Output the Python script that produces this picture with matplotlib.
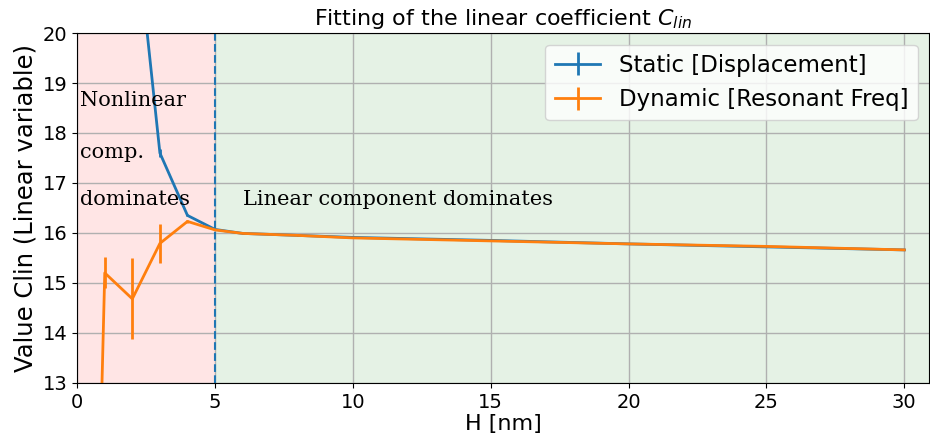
import numpy as np
import matplotlib
matplotlib.use("Agg")
import matplotlib.pyplot as plt

H = [0.5, 1, 2, 3, 4, 5, 6, 8, 10, 15, 20, 25, 30]
static_val = [40.0, 30.0, 22.8, 17.6, 16.35, 16.07, 15.99, 15.95, 15.91, 15.85, 15.78, 15.72, 15.66]
static_err = [0.5, 0.4, 0.2, 0.08, 0.02, 0.01, 0.01, 0.01, 0.01, 0.01, 0.01, 0.01, 0.01]
dyn_val = [4.2, 15.2, 14.68, 15.79, 16.23, 16.06, 15.99, 15.95, 15.9, 15.84, 15.78, 15.73, 15.66]
dyn_err = [0.5, 0.31, 0.81, 0.39, 0.03, 0.01, 0.01, 0.01, 0.01, 0.01, 0.01, 0.01, 0.01]
H_SPLIT = 5


def main():
    fig = plt.figure(figsize=(9.3, 4.41), dpi=100)
    ax = fig.add_axes([0.083, 0.132, 0.916, 0.793])
    ax.axvspan(0, H_SPLIT, color="red", alpha=0.1, lw=0)
    ax.axvspan(H_SPLIT, 31, color="green", alpha=0.1, lw=0)
    ax.axvline(H_SPLIT, color="tab:blue", ls="--", lw=1.5)

    ax.errorbar(H, static_val, yerr=static_err, color="tab:blue", lw=2, label="Static [Displacement]")
    ax.errorbar(H, dyn_val, yerr=dyn_err, color="tab:orange", lw=2, label="Dynamic [Resonant Freq]")

    serif = dict(family="DejaVu Serif", fontsize=15, va="center")
    ax.text(0.12, 18.66, "Nonlinear", **serif)
    ax.text(0.12, 17.6, "comp.", **serif)
    ax.text(0.12, 16.66, "dominates", **serif)
    ax.text(6.0, 16.66, "Linear component dominates", **serif)

    ax.set_xlim(0, 30.9)
    ax.set_ylim(13, 20)
    ax.set_xticks([0, 5, 10, 15, 20, 25, 30])
    ax.grid(True, color="#b0b0b0", lw=1)
    ax.tick_params(labelsize=14)
    ax.set_xlabel("H [nm]", fontsize=16, labelpad=2)
    ax.set_ylabel("Value Clin (Linear variable)", fontsize=17.5)
    ax.set_title("Fitting of the linear coefficient $C_{lin}$", fontsize=16)
    ax.legend(loc="upper right", fontsize=16.5)
    fig.savefig("out.png", dpi=100)


if __name__ == "__main__":
    main()
